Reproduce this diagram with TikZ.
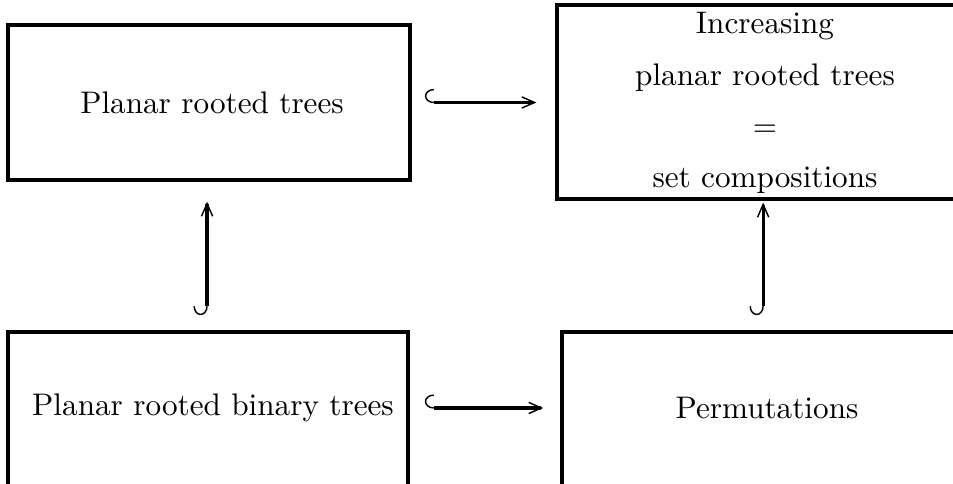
\documentclass[tikz,border=0pt]{standalone}
\usepackage{tikz}
\usetikzlibrary{arrows.meta,positioning}

\tikzset{
  box/.style={draw,line width=1.1pt,inner sep=0pt},
  txt/.style={inner sep=0pt,align=center,font=\fontsize{9.75pt}{11.7pt}\selectfont},
  incl/.style={line width=#1,{Hooks[right,line width=0.45pt,length=2.8pt,width=8.5pt]}-{Straight Barb[line width=0.45pt,length=4pt,width=3.5pt]}},
  incl/.default=0.9pt
}

\begin{document}
\begin{tikzpicture}[x=0.3125pt,y=-0.3125pt]
  \clip (0,0) rectangle (953,484);
  % boxes
  \node[box,minimum width=125.6pt,minimum height=48.4pt] (trees) at (209,102.5) {};
  \node[box,minimum width=130pt,minimum height=60.6pt] (incr) at (765,102) {};
  \node[box,minimum width=125pt,minimum height=50pt] (binary) at (208,412) {};
  \node[box,minimum width=127.5pt,minimum height=50pt] (perm) at (766,412) {};
  % labels
  \node[txt] (ttrees) at (212,103) {Planar rooted trees};
  \node[txt] (tincr) at (765,103) {Increasing\\[4.3pt] planar rooted trees\\[4.3pt] =\\[4.3pt] set compositions};
  \node[txt] (tbinary) at (213,408) {Planar rooted binary trees};
  \node[txt] (tperm) at (767,408) {Permutations};
  % inclusions
  \draw[incl] ([xshift=4.1pt]trees.east) -- ([xshift=-5.9pt]incr.west |- trees.east);
  \draw[incl=1.25pt] ([xshift=4.7pt]binary.east |- tbinary) -- ([xshift=-5.3pt]perm.west |- tbinary);
  \draw[incl=1.5pt] ([xshift=-0.3pt,yshift=4.7pt]binary.north) -- ([xshift=-0.3pt,yshift=-6.25pt]binary.north |- trees.south);
  \draw[incl] ([xshift=-0.9pt,yshift=4.7pt]perm.north) -- ([xshift=-0.9pt,yshift=-0.6pt]perm.north |- incr.south);
\end{tikzpicture}
\end{document}
